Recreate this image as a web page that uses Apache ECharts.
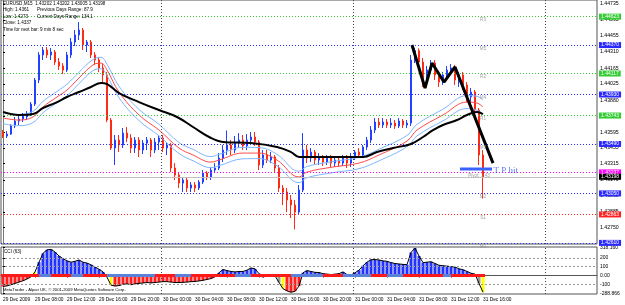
<!DOCTYPE html>
<html>
<head>
<meta charset="utf-8">
<title>EURUSD,M15</title>
<script src="https://cdn.jsdelivr.net/npm/echarts@6/dist/echarts.min.js"></script>
<style>
html, body { margin: 0; padding: 0; background: #fff; }
#chart { width: 625px; height: 305px; }
</style>
</head>
<body>
<div id="chart"></div>
<script>
// 30 min bars, 29 Dec 04:00 .. 31 Dec 16:00  [open, close, low, high]
var candles = [
  [1.43596, 1.43561, 1.43543, 1.43614], [1.43561, 1.43578, 1.43543, 1.43605], [1.43578, 1.43650, 1.43570, 1.43667],
  [1.43650, 1.43694, 1.43632, 1.43730], [1.43694, 1.43712, 1.43659, 1.43756], [1.43712, 1.43739, 1.43685, 1.43765],
  [1.43730, 1.43756, 1.43703, 1.43783], [1.43756, 1.43845, 1.43739, 1.43863], [1.43845, 1.44059, 1.43828, 1.44077],
  [1.44059, 1.44282, 1.44032, 1.44308], [1.44282, 1.44326, 1.44237, 1.44353], [1.44326, 1.44282, 1.44255, 1.44353],
  [1.44282, 1.44308, 1.44237, 1.44344], [1.44308, 1.44219, 1.44193, 1.44326], [1.44219, 1.44184, 1.44148, 1.44255],
  [1.44184, 1.44148, 1.44112, 1.44210], [1.44148, 1.44282, 1.44130, 1.44308], [1.44282, 1.44397, 1.44255, 1.44433],
  [1.44397, 1.44460, 1.44362, 1.44504], [1.44460, 1.44504, 1.44415, 1.44575], [1.44504, 1.44371, 1.44326, 1.44522],
  [1.44371, 1.44397, 1.44308, 1.44415], [1.44397, 1.44282, 1.44255, 1.44415], [1.44282, 1.44237, 1.44193, 1.44308],
  [1.44237, 1.44166, 1.44130, 1.44255], [1.44166, 1.44104, 1.44041, 1.44201], [1.44104, 1.43703, 1.43685, 1.44130],
  [1.43703, 1.43454, 1.43436, 1.43721], [1.43454, 1.43525, 1.43303, 1.43570], [1.43525, 1.43481, 1.43418, 1.43570],
  [1.43481, 1.43587, 1.43454, 1.43632], [1.43587, 1.43543, 1.43507, 1.43641], [1.43543, 1.43454, 1.43409, 1.43578],
  [1.43454, 1.43525, 1.43409, 1.43552], [1.43525, 1.43436, 1.43374, 1.43552], [1.43436, 1.43498, 1.43400, 1.43525],
  [1.43498, 1.43525, 1.43436, 1.43552], [1.43525, 1.43436, 1.43374, 1.43543], [1.43436, 1.43507, 1.43409, 1.43543],
  [1.43507, 1.43543, 1.43436, 1.43570], [1.43543, 1.43454, 1.43418, 1.43570], [1.43454, 1.43481, 1.43392, 1.43507],
  [1.43481, 1.43276, 1.43240, 1.43498], [1.43276, 1.43214, 1.43169, 1.43320], [1.43214, 1.43142, 1.43098, 1.43240],
  [1.43142, 1.43169, 1.43062, 1.43187], [1.43169, 1.43098, 1.43062, 1.43196], [1.43098, 1.43125, 1.43062, 1.43151],
  [1.43125, 1.43098, 1.43062, 1.43151], [1.43098, 1.43151, 1.43080, 1.43169], [1.43151, 1.43231, 1.43133, 1.43258],
  [1.43231, 1.43196, 1.43169, 1.43249], [1.43196, 1.43258, 1.43169, 1.43285], [1.43258, 1.43276, 1.43231, 1.43320],
  [1.43276, 1.43365, 1.43258, 1.43409], [1.43365, 1.43436, 1.43329, 1.43481], [1.43436, 1.43481, 1.43392, 1.43610],
  [1.43481, 1.43436, 1.43392, 1.43525], [1.43436, 1.43498, 1.43409, 1.43561], [1.43498, 1.43525, 1.43454, 1.43587],
  [1.43525, 1.43472, 1.43436, 1.43570], [1.43472, 1.43525, 1.43436, 1.43578], [1.43525, 1.43552, 1.43481, 1.43596],
  [1.43552, 1.43507, 1.43472, 1.43596], [1.43507, 1.43303, 1.43258, 1.43525], [1.43303, 1.43392, 1.43276, 1.43436],
  [1.43392, 1.43347, 1.43320, 1.43436], [1.43347, 1.43374, 1.43320, 1.43418], [1.43374, 1.43276, 1.43240, 1.43392],
  [1.43276, 1.43098, 1.43062, 1.43303], [1.43098, 1.43062, 1.42947, 1.43125], [1.43062, 1.42991, 1.42884, 1.43098],
  [1.42991, 1.42947, 1.42831, 1.43036], [1.42947, 1.42884, 1.42730, 1.42991], [1.42884, 1.43080, 1.42858, 1.43125],
  [1.43080, 1.43436, 1.43062, 1.43587], [1.43436, 1.43365, 1.43320, 1.43481], [1.43365, 1.43418, 1.43329, 1.43454],
  [1.43418, 1.43347, 1.43303, 1.43436], [1.43347, 1.43374, 1.43303, 1.43409], [1.43374, 1.43329, 1.43294, 1.43392],
  [1.43329, 1.43365, 1.43303, 1.43392], [1.43365, 1.43320, 1.43285, 1.43392], [1.43320, 1.43347, 1.43285, 1.43374],
  [1.43347, 1.43320, 1.43285, 1.43374], [1.43320, 1.43365, 1.43294, 1.43392], [1.43365, 1.43320, 1.43276, 1.43392],
  [1.43320, 1.43374, 1.43285, 1.43409], [1.43374, 1.43418, 1.43347, 1.43436], [1.43418, 1.43392, 1.43365, 1.43454],
  [1.43392, 1.43463, 1.43365, 1.43481], [1.43463, 1.43525, 1.43436, 1.43552], [1.43525, 1.43614, 1.43498, 1.43650],
  [1.43614, 1.43685, 1.43587, 1.43721], [1.43685, 1.43659, 1.43632, 1.43721], [1.43659, 1.43685, 1.43632, 1.43721],
  [1.43685, 1.43659, 1.43632, 1.43712], [1.43659, 1.43676, 1.43632, 1.43721], [1.43676, 1.43650, 1.43623, 1.43703],
  [1.43650, 1.43694, 1.43632, 1.43721], [1.43694, 1.43659, 1.43632, 1.43712], [1.43659, 1.43676, 1.43632, 1.43703],
  [1.43676, 1.44237, 1.43650, 1.44282], [1.44237, 1.44320, 1.44210, 1.44346], [1.44320, 1.44219, 1.44184, 1.44340],
  [1.44219, 1.44059, 1.43997, 1.44255], [1.44059, 1.44148, 1.44015, 1.44184], [1.44148, 1.44210, 1.44130, 1.44237],
  [1.44210, 1.44104, 1.44059, 1.44237], [1.44104, 1.44041, 1.43997, 1.44130], [1.44041, 1.44104, 1.44015, 1.44130],
  [1.44104, 1.44148, 1.44077, 1.44184], [1.44148, 1.44166, 1.44112, 1.44201], [1.44166, 1.44059, 1.44015, 1.44193],
  [1.44059, 1.44104, 1.43997, 1.44130], [1.44104, 1.44015, 1.43970, 1.44130], [1.44015, 1.43908, 1.43863, 1.44041],
  [1.43908, 1.43952, 1.43792, 1.43988], [1.43952, 1.43792, 1.43748, 1.43970], [1.43792, 1.43392, 1.43303, 1.43810],
  [1.43392, 1.43198, 1.43005, 1.43436]
];

var timeLabels = ['29 Dec 2009', '29 Dec 08:00', '29 Dec 12:00', '29 Dec 16:00', '29 Dec 20:00', '30 Dec 00:00',
  '30 Dec 04:00', '30 Dec 08:00', '30 Dec 12:00', '30 Dec 16:00', '30 Dec 20:00', '31 Dec 00:00',
  '31 Dec 04:00', '31 Dec 08:00', '31 Dec 12:00', '31 Dec 16:00'];
var slotCount = 149;
var priceTicks = [1.44735, 1.44595, 1.44455, 1.44310, 1.44165, 1.44025, 1.43880, 1.43740,
  1.43595, 1.43455, 1.43315, 1.43170, 1.43030, 1.42885, 1.42750];

// moving averages [bar, price]
var blackMA = [[0, 1.43774], [4, 1.43748], [7.5, 1.43756], [10, 1.43810], [13, 1.43854], [16, 1.43908],
  [19, 1.43952], [22, 1.43997], [24.5, 1.44032], [26, 1.44023], [29, 1.43943], [34, 1.43863], [39, 1.43792],
  [43.5, 1.43730], [47.5, 1.43641], [52, 1.43543], [55, 1.43507], [62, 1.43498], [68.5, 1.43463],
  [72, 1.43418], [74, 1.43374], [78.5, 1.43374], [86.5, 1.43374], [90, 1.43374], [93.5, 1.43418],
  [97.5, 1.43454], [102, 1.43490], [105, 1.43552], [107.5, 1.43614], [110, 1.43659], [113.5, 1.43703],
  [116, 1.43748], [118.5, 1.43774], [120, 1.43756]];
var redMA = [[0, 1.43721], [4, 1.43703], [7.5, 1.43730], [10, 1.43819], [13.5, 1.43908], [16, 1.43970],
  [19, 1.44077], [22.5, 1.44193], [24.5, 1.44210], [26, 1.44148], [29, 1.43952], [34, 1.43748], [39, 1.43614],
  [44, 1.43454], [47.5, 1.43392], [52, 1.43329], [54, 1.43347], [60, 1.43409], [64, 1.43409], [68.5, 1.43347],
  [74, 1.43196], [76, 1.43240], [82.5, 1.43285], [89, 1.43320], [94, 1.43392], [101, 1.43516],
  [103.5, 1.43614], [110, 1.43748], [116, 1.43863], [118.5, 1.43854], [120, 1.43819]];
var upperBand = [[0, 1.43770], [4, 1.43752], [7.5, 1.43781], [10, 1.43870], [13.5, 1.43958], [16, 1.44022],
  [19, 1.44128], [22.5, 1.44242], [24.5, 1.44261], [26, 1.44199], [29, 1.44003], [34, 1.43797], [39, 1.43665],
  [44, 1.43503], [47.5, 1.43442], [52, 1.43378], [54, 1.43397], [60, 1.43460], [64, 1.43458], [68.5, 1.43398],
  [74, 1.43247], [76, 1.43290], [82.5, 1.43334], [89, 1.43371], [94, 1.43443], [101, 1.43566],
  [103.5, 1.43665], [110, 1.43800], [116, 1.43920], [118.5, 1.43915], [120, 1.43880]];
var lowerBand = [[0, 1.43671], [4, 1.43653], [7.5, 1.43680], [10, 1.43768], [13.5, 1.43857], [16, 1.43919],
  [19, 1.44027], [22.5, 1.44143], [24.5, 1.44159], [26, 1.44097], [29, 1.43901], [34, 1.43698], [39, 1.43563],
  [44, 1.43405], [47.5, 1.43341], [52, 1.43279], [54, 1.43296], [60, 1.43358], [64, 1.43360], [68.5, 1.43296],
  [74, 1.43145], [76, 1.43190], [82.5, 1.43235], [89, 1.43270], [94, 1.43340], [101, 1.43466],
  [103.5, 1.43562], [110, 1.43696], [116, 1.43805], [118.5, 1.43790], [120, 1.43755]];

// daily pivot levels
var levelNames = ['R3', 'M5', 'R2', 'M4', 'R1', 'M3', 'Pivot', 'M2', 'S1', 'M1'];
var levelValues = [1.44623, 1.44370, 1.44117, 1.43930, 1.43743, 1.43490, 1.43237, 1.43050, 1.42863, 1.42610];
var bidPrice = 1.43198;
var daySeparators = [39.5, 87.5, 135.5];

// hand drawn objects
var trendLine = [[102.25, 1.44371], [105.5, 1.43988], [107.25, 1.44210], [110.25, 1.44041], [113, 1.44175], [122.5, 1.43320]];
var tpLine = [[114.25, 1.43267], [122.25, 1.43267]];

// CCI(63)
var cciValues = [-125, -118, -105, -90, -75, -60, -40, -15, 40, 150, 250, 290, 295, 265, 220, 190, 165,
  150, 160, 175, 150, 140, 120, 95, 70, 40, -20, -110, -120, -115, -100, -95, -105, -95, -90, -85, -80,
  -85, -80, -75, -70, -70, -75, -80, -80, -78, -75, -70, -68, -62, -55, -45, -35, -15, 30, 67, 55, 45,
  40, 45, 45, 60, 85, 75, 20, -20, 0, 5, -5, -80, -150, -175, -190, -180, -120, 30, 55, 45, 35, 33, 20,
  15, 10, 15, 20, 40, 10, 5, 30, 60, 110, 150, 178, 180, 175, 165, 160, 145, 135, 130, 125, 122, 260,
  310, 220, 145, 150, 155, 135, 115, 110, 105, 100, 95, 75, 65, 45, 25, 15, -90, -190];
var cciGray = [7, 26, 69, 119];
var cciYellow = [8, 27, 70, 120];
var cciTicks = [318.16, 200, 100, 0, -100, -205];
var cciMinLabel = '-288.866';
var cciLevels = [200, 100, -100];
var zeroBand = [[-0.5, 9, 'r'], [9, 12, 'b'], [12, 17, 'r'], [17, 20, 'b'], [20, 26, 'r'], [26, 38, 'b'],
  [38, 43, 'r'], [43, 47, 'b'], [47, 58, 'r'], [58, 62, 'b'], [62, 72, 'r'], [72, 80, 'b'], [80, 85, 'r'],
  [85, 92, 'b'], [92, 96, 'r'], [96, 100, 'b'], [100, 110, 'r'], [110, 112, 'b'], [112, 120.5, 'r']];

var font = 'Liberation Sans';
var chart = echarts.init(document.getElementById('chart'));

var categories = [];
for (var i = 0; i < slotCount; i++) {
  categories.push(i % 8 === 0 && i / 8 < timeLabels.length ? timeLabels[i / 8] : '');
}

function levelColor(name) {
  var c = name.charAt(0);
  if (name === 'Pivot') return '#ff00ff';
  if (c === 'R') return '#33cc33';
  if (c === 'S') return '#ff2020';
  return '#2a2aff';
}

function boxLabel(text, col) {
  return { show: true, position: 'end', distance: 2, formatter: text, backgroundColor: col,
    color: '#fff', fontSize: 5, fontFamily: font, padding: [1, 2, 0, 2] };
}

var levelLines = levelValues.map(function (v, k) {
  var col = levelColor(levelNames[k]);
  return { yAxis: v, lineStyle: { color: col, type: [1, 2], width: 1 }, label: boxLabel(v.toFixed(5), col) };
});
levelLines.push({ yAxis: bidPrice, lineStyle: { color: '#c0c0c0', type: 'solid', width: 1 },
  label: boxLabel(bidPrice.toFixed(5), '#000') });

var levelTags = levelNames.map(function (n, k) {
  return { name: n === 'Pivot' ? 'Pivot: 1.43' : n, value: [n === 'Pivot' ? 119 : 120, levelValues[k]] };
});

var separatorLines = daySeparators.map(function (d) {
  return { xAxis: d, lineStyle: { color: '#444', type: [1, 2], width: 1 }, label: { show: false } };
});
var zeroSegments = zeroBand.map(function (z) {
  return [{ coord: [z[0], 0], lineStyle: { color: z[2] === 'r' ? '#ff1a1a' : '#5a82d8', width: 3, type: 'solid' } },
          { coord: [z[1], 0] }];
});
var cciLevelLines = cciLevels.map(function (v) {
  return { yAxis: v, lineStyle: { color: '#999', type: [2, 2], width: 1 } };
});

var headerLines = [
  ['EURUSD,M15  1.43202 1.43202 1.43005 1.43198', 3, 1],
  ['High: 1.4361', 3, 7.5], ['Previous Days Range: 87.9', 37, 7.5],
  ['Low: 1.4273', 3, 14], ['Current Days Range: 134.1', 37, 14],
  ['Close: 1.4337', 3, 20.5],
  ['Time for next bar: 9 min 8 sec', 3, 27]
];
var graphics = headerLines.map(function (h) {
  return { type: 'text', left: h[1], top: h[2], z: 10,
    style: { text: h[0], fill: '#000', fontSize: 4.6, fontFamily: font } };
});
graphics.push({ type: 'text', left: 4, top: 249, z: 10, style: { text: 'CCI (63)', fill: '#000', fontSize: 4.6, fontFamily: font } });
graphics.push({ type: 'text', left: 3, top: 288, z: 10,
  style: { text: 'MetaTrader - Alpari UK, \u00a9 2001-2009 MetaQuotes Software Corp.', fill: '#000', fontSize: 4.2, fontFamily: font } });

function showLabel(idx, val) { return val !== ''; }

var option = {
  animation: false,
  backgroundColor: '#fff',
  graphic: graphics,
  grid: [
    { left: 1, top: 0, width: 596, height: 244, show: true, borderColor: '#555', borderWidth: 1 },
    { left: 1, top: 247, width: 596, height: 47, show: true, borderColor: '#555', borderWidth: 1 }
  ],
  xAxis: [
    { type: 'category', gridIndex: 0, data: categories, boundaryGap: true, axisLine: { show: false },
      axisTick: { show: false }, axisLabel: { show: false }, splitLine: { show: false } },
    { type: 'value', gridIndex: 0, min: -0.5, max: slotCount - 0.5, show: false },
    { type: 'category', gridIndex: 1, data: categories, boundaryGap: true,
      axisLine: { show: true, lineStyle: { color: '#555' } },
      axisTick: { show: true, interval: showLabel, alignWithLabel: true, length: 2, lineStyle: { color: '#000' } },
      axisLabel: { interval: showLabel, align: 'left', margin: 3, fontSize: 4.8, fontFamily: font, color: '#000' },
      splitLine: { show: false } },
    { type: 'value', gridIndex: 1, min: -0.5, max: slotCount - 0.5, show: false }
  ],
  yAxis: [
    { type: 'value', gridIndex: 0, position: 'right', min: 1.4260, max: 1.44771, scale: true,
      axisLine: { show: true, lineStyle: { color: '#777' } },
      axisTick: { show: true, length: 2, customValues: priceTicks, lineStyle: { color: '#000' } },
      axisLabel: { customValues: priceTicks, margin: 3, fontSize: 5.2, fontFamily: font, color: '#000',
        formatter: function (v) { return v.toFixed(5); } },
      splitLine: { show: false } },
    { type: 'value', gridIndex: 1, position: 'right', min: -210, max: 322,
      axisLine: { show: true, lineStyle: { color: '#777' } },
      axisTick: { show: true, length: 2, customValues: cciTicks, lineStyle: { color: '#000' } },
      axisLabel: { customValues: cciTicks, margin: 3, fontSize: 5, fontFamily: font, color: '#000',
        formatter: function (v) {
          if (v < -200) return cciMinLabel;
          return v === 0 ? '0.00' : (v === 318.16 ? '318.160' : String(v));
        } },
      splitLine: { show: false } }
  ],
  series: [
    { type: 'candlestick', xAxisIndex: 0, yAxisIndex: 0, data: candles, barWidth: 2, z: 3,
      itemStyle: { color: '#2340ff', color0: '#ff2a14', borderColor: '#2340ff', borderColor0: '#ff2a14', borderWidth: 1 } },
    { type: 'line', xAxisIndex: 1, yAxisIndex: 0, data: [], symbol: 'none', z: 1,
      markLine: { silent: true, symbol: 'none', precision: 5, data: levelLines.concat(separatorLines) } },
    { type: 'line', xAxisIndex: 1, yAxisIndex: 0, data: upperBand, smooth: 0.4, symbol: 'none', z: 4,
      lineStyle: { color: '#7fb6ff', width: 1 } },
    { type: 'line', xAxisIndex: 1, yAxisIndex: 0, data: lowerBand, smooth: 0.4, symbol: 'none', z: 4,
      lineStyle: { color: '#7fb6ff', width: 1 } },
    { type: 'line', xAxisIndex: 1, yAxisIndex: 0, data: redMA, smooth: 0.4, symbol: 'none', z: 4,
      lineStyle: { color: '#ff4a4a', width: 1 } },
    { type: 'line', xAxisIndex: 1, yAxisIndex: 0, data: blackMA, smooth: 0.4, symbol: 'none', z: 5,
      lineStyle: { color: '#000', width: 2 } },
    { type: 'line', xAxisIndex: 1, yAxisIndex: 0, data: trendLine, symbol: 'none', z: 6,
      lineStyle: { color: '#000', width: 3 } },
    { type: 'line', xAxisIndex: 1, yAxisIndex: 0, data: tpLine, symbol: 'none', z: 6,
      lineStyle: { color: '#3a62ff', width: 3 } },
    { type: 'scatter', xAxisIndex: 1, yAxisIndex: 0, data: levelTags, symbolSize: 0, silent: true, z: 6,
      label: { show: true, position: 'bottom', distance: 1, formatter: '{b}', fontSize: 4.6, fontFamily: font, color: '#8a8a8a' } },
    { type: 'scatter', xAxisIndex: 1, yAxisIndex: 0, data: [{ name: 'T P hit', value: [122.6, 1.43255] }],
      symbolSize: 0, silent: true, z: 6,
      label: { show: true, position: 'right', distance: 0, formatter: '{b}', fontSize: 9,
        fontFamily: 'Liberation Serif', color: '#3355ee' } },
    { type: 'bar', xAxisIndex: 2, yAxisIndex: 1, data: cciValues, barWidth: 3,
      itemStyle: { color: function (p) {
        if (cciYellow.indexOf(p.dataIndex) >= 0) return '#ffff00';
        if (cciGray.indexOf(p.dataIndex) >= 0) return '#9a9a9a';
        return p.value >= 0 ? '#2233ff' : '#ff1f1f';
      } } },
    { type: 'line', xAxisIndex: 2, yAxisIndex: 1, data: cciValues, symbol: 'none',
      lineStyle: { color: '#000', width: 1 } },
    { type: 'line', xAxisIndex: 3, yAxisIndex: 1, data: [], symbol: 'none',
      markLine: { silent: true, symbol: 'none', precision: 3, label: { show: false },
        lineStyle: { color: '#555', type: [2, 2], width: 1 },
        data: separatorLines.concat(cciLevelLines).concat(zeroSegments) } }
  ]
};
chart.setOption(option);
</script>
</body>
</html>
